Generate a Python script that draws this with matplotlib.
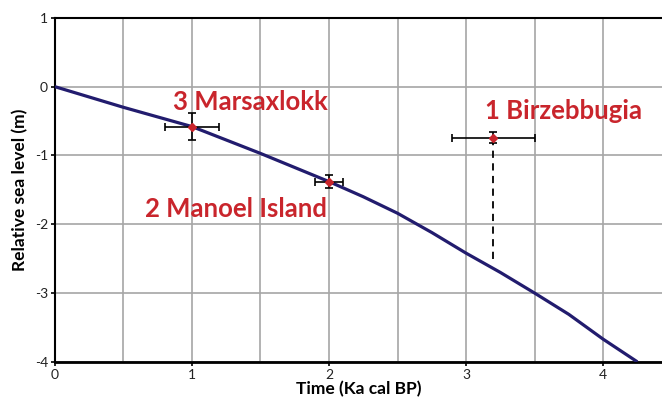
import matplotlib.pyplot as plt
import numpy as np

plt.rcParams['axes.unicode_minus'] = False
plt.rcParams['font.family'] = ['Lato', 'DejaVu Sans']

# Sea-level curve
curve_time = [0, 0.5, 1.0, 1.5, 2.0, 2.25, 2.5, 2.75, 3.0, 3.25, 3.5, 3.75, 4.0, 4.25]
curve_rsl = [0, -0.30, -0.58, -0.97, -1.38, -1.60, -1.84, -2.12, -2.42, -2.70, -3.00, -3.31, -3.67, -4.0]

# Sample points (time, level, x error, y error)
site_names = ['3 Marsaxlokk', '2 Manoel Island', '1 Birzebbugia']
site_time = [1.0, 2.0, 3.2]
site_rsl = [-0.58, -1.38, -0.74]
site_xerr = [0.20, 0.10, 0.30]
site_yerr = [0.20, 0.10, 0.08]
label_pos = [(0.86, -0.34), (0.66, -1.90), (3.14, -0.47)]

# dashed drop from Birzebbugia down to the curve
drop_time = [3.2, 3.2]
drop_rsl = [-0.74, -2.55]

red = '#C9252C'
navy = '#221C6E'

fig = plt.figure(figsize=(6.62, 4.07), dpi=100)
ax = fig.add_axes([0.083, 0.111, 0.917, 0.845])

ax.plot(curve_time, curve_rsl, color=navy, lw=2.3, zorder=3,
        solid_capstyle='butt', solid_joinstyle='round')
ax.plot(drop_time, drop_rsl, color='black', lw=1.3, ls=(0, (4, 3)), zorder=2)
ax.errorbar(site_time, site_rsl, xerr=site_xerr, yerr=site_yerr, fmt='none',
            ecolor='black', elinewidth=1.2, capsize=3, capthick=1.2, zorder=4)
ax.plot(site_time, site_rsl, 'D', color=red, ms=4.5, zorder=5)

for name, (tx, ty) in zip(site_names, label_pos):
    ax.text(tx, ty, name, color=red, fontsize=18.5, fontweight='bold',
            ha='left', va='baseline', zorder=6)

ax.set_xlim(0, 4.43)
ax.set_ylim(-4, 1)
ax.set_xticks([0, 1, 2, 3, 4])
ax.set_xticks(np.arange(0.5, 4.5, 1.0), minor=True)
ax.set_yticks([-4, -3, -2, -1, 0, 1])
ax.grid(True, which='major', color='#A6A6A6', lw=1.2, zorder=0)
ax.grid(True, which='minor', axis='x', color='#A6A6A6', lw=1.2, zorder=0)
ax.tick_params(which='minor', length=0)
ax.tick_params(which='major', direction='out', length=3, width=1.2,
               labelsize=10, labelcolor='#222222', pad=2)
ax.set_axisbelow(True)

for s in ['left', 'top']:
    ax.spines[s].set_linewidth(1.5)
ax.spines['bottom'].set_linewidth(2)
ax.spines['right'].set_visible(False)

ax.set_xlabel('Time (Ka cal BP)', fontsize=12.5, fontweight='bold', labelpad=0)
ax.set_ylabel('Relative sea level (m)', fontsize=12.5, fontweight='bold', labelpad=5)

fig.savefig('out.png', dpi=100)
